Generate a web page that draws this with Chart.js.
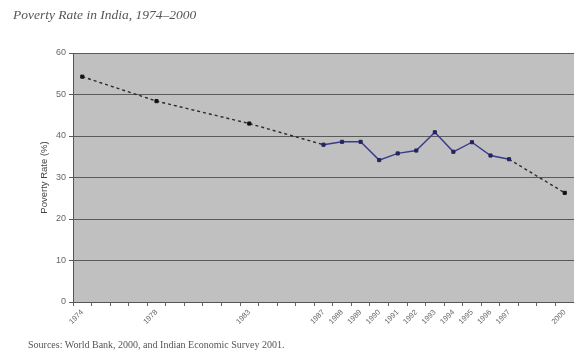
<!DOCTYPE html>
<html>
<head>
<meta charset="utf-8">
<script src="https://cdn.jsdelivr.net/npm/chart.js@4.4.1/dist/chart.umd.min.js"></script>
<style>
  html, body { margin: 0; padding: 0; background: #fff; }
  #wrap { position: relative; width: 574px; height: 352px; overflow: hidden; }
  #chart { position: absolute; left: 0; top: 0; }
  .title {
    position: absolute; left: 13px; top: 7px;
    font: italic 13.5px "Liberation Serif", "DejaVu Serif", serif; color: #555;
    white-space: nowrap;
  }
  .source {
    position: absolute; left: 28px; top: 339px;
    font: 10px "Liberation Serif", "DejaVu Serif", serif; color: #555;
    white-space: nowrap;
  }
</style>
</head>
<body>
<div id="wrap">
  <canvas id="chart" width="574" height="352"></canvas>
  <div class="title">Poverty Rate in India, 1974–2000</div>
  <div class="source">Sources: World Bank, 2000, and Indian Economic Survey 2001.</div>
</div>
<script>
// One category per year, 1974 to 2000
const years = ['1974','1975','1976','1977','1978','1979','1980','1981','1982','1983',
               '1984','1985','1986','1987','1988','1989','1990','1991','1992','1993',
               '1994','1995','1996','1997','1998','1999','2000'];

// Poverty rate (%) for the years with an estimate
const povertyRate = [54.3, null, null, null, 48.4, null, null, null, null, 43.0,
                     null, null, null, 37.9, 38.6, 38.6, 34.2, 35.8, 36.5, 40.9,
                     36.2, 38.5, 35.3, 34.4, null, null, 26.3];

// Years printed under the axis
const tickLabels = ['1974','1978','1983','1987','1988','1989','1990','1991','1992',
                    '1993','1994','1995','1996','1997','2000'];

// Annual survey run drawn as a solid line, the rest dashed
const annualFirst = years.indexOf('1987');
const annualLast = years.indexOf('1997');
const inAnnual = ctx => ctx.p0DataIndex >= annualFirst && ctx.p1DataIndex <= annualLast;
const pointInAnnual = ctx => ctx.dataIndex >= annualFirst && ctx.dataIndex <= annualLast;

const plotBackground = {
  id: 'plotBackground',
  beforeDraw(chart) {
    const { ctx, chartArea: a } = chart;
    ctx.save();
    ctx.fillStyle = '#c0c0c0';
    ctx.fillRect(a.left, a.top, a.right - a.left, a.bottom - a.top);
    ctx.restore();
  }
};

new Chart(document.getElementById('chart'), {
  type: 'line',
  data: {
    labels: years,
    datasets: [{
      data: povertyRate,
      spanGaps: true,
      borderWidth: 1.4,
      borderColor: '#2e2e7a',
      segment: {
        borderDash: ctx => inAnnual(ctx) ? [] : [3, 3],
        borderColor: ctx => inAnnual(ctx) ? '#3a3a8c' : '#2a2a2a'
      },
      pointStyle: 'rect',
      pointRadius: 2.2,
      pointBackgroundColor: ctx => pointInAnnual(ctx) ? '#24245e' : '#111',
      pointBorderColor: ctx => pointInAnnual(ctx) ? '#24245e' : '#111',
      pointBorderWidth: 1,
      tension: 0
    }]
  },
  options: {
    responsive: false,
    animation: false,
    devicePixelRatio: 1,
    layout: { autoPadding: false, padding: { left: 39, top: 53, right: 0, bottom: 0 } },
    plugins: { legend: { display: false }, tooltip: { enabled: false } },
    scales: {
      x: {
        type: 'category',
        offset: true,
        grid: { offset: true, drawOnChartArea: false, tickLength: 4, color: '#666' },
        border: { color: '#555', width: 1 },
        ticks: {
          autoSkip: false,
          minRotation: 45,
          maxRotation: 45,
          padding: 2,
          color: '#666',
          font: { family: 'Liberation Sans, Arial, sans-serif', size: 7.5 },
          callback: (v, i) => tickLabels.includes(years[i]) ? years[i] : ''
        },
        afterFit: s => { s.height = 50; s.paddingLeft = 0; s.paddingRight = 0; }
      },
      y: {
        min: 0,
        max: 60,
        ticks: {
          stepSize: 10,
          padding: 3,
          color: '#666',
          font: { family: 'Liberation Sans, Arial, sans-serif', size: 9 }
        },
        grid: { color: '#5a5a5a', lineWidth: 1, tickLength: 4 },
        border: { color: '#555', width: 1 },
        title: {
          display: true,
          text: 'Poverty Rate (%)',
          color: '#444',
          font: { family: 'Liberation Sans, Arial, sans-serif', size: 9.5 },
          padding: { top: 0, bottom: 0 }
        },
        afterFit: s => { s.width = 34; }
      }
    }
  },
  plugins: [plotBackground]
});
</script>
</body>
</html>
